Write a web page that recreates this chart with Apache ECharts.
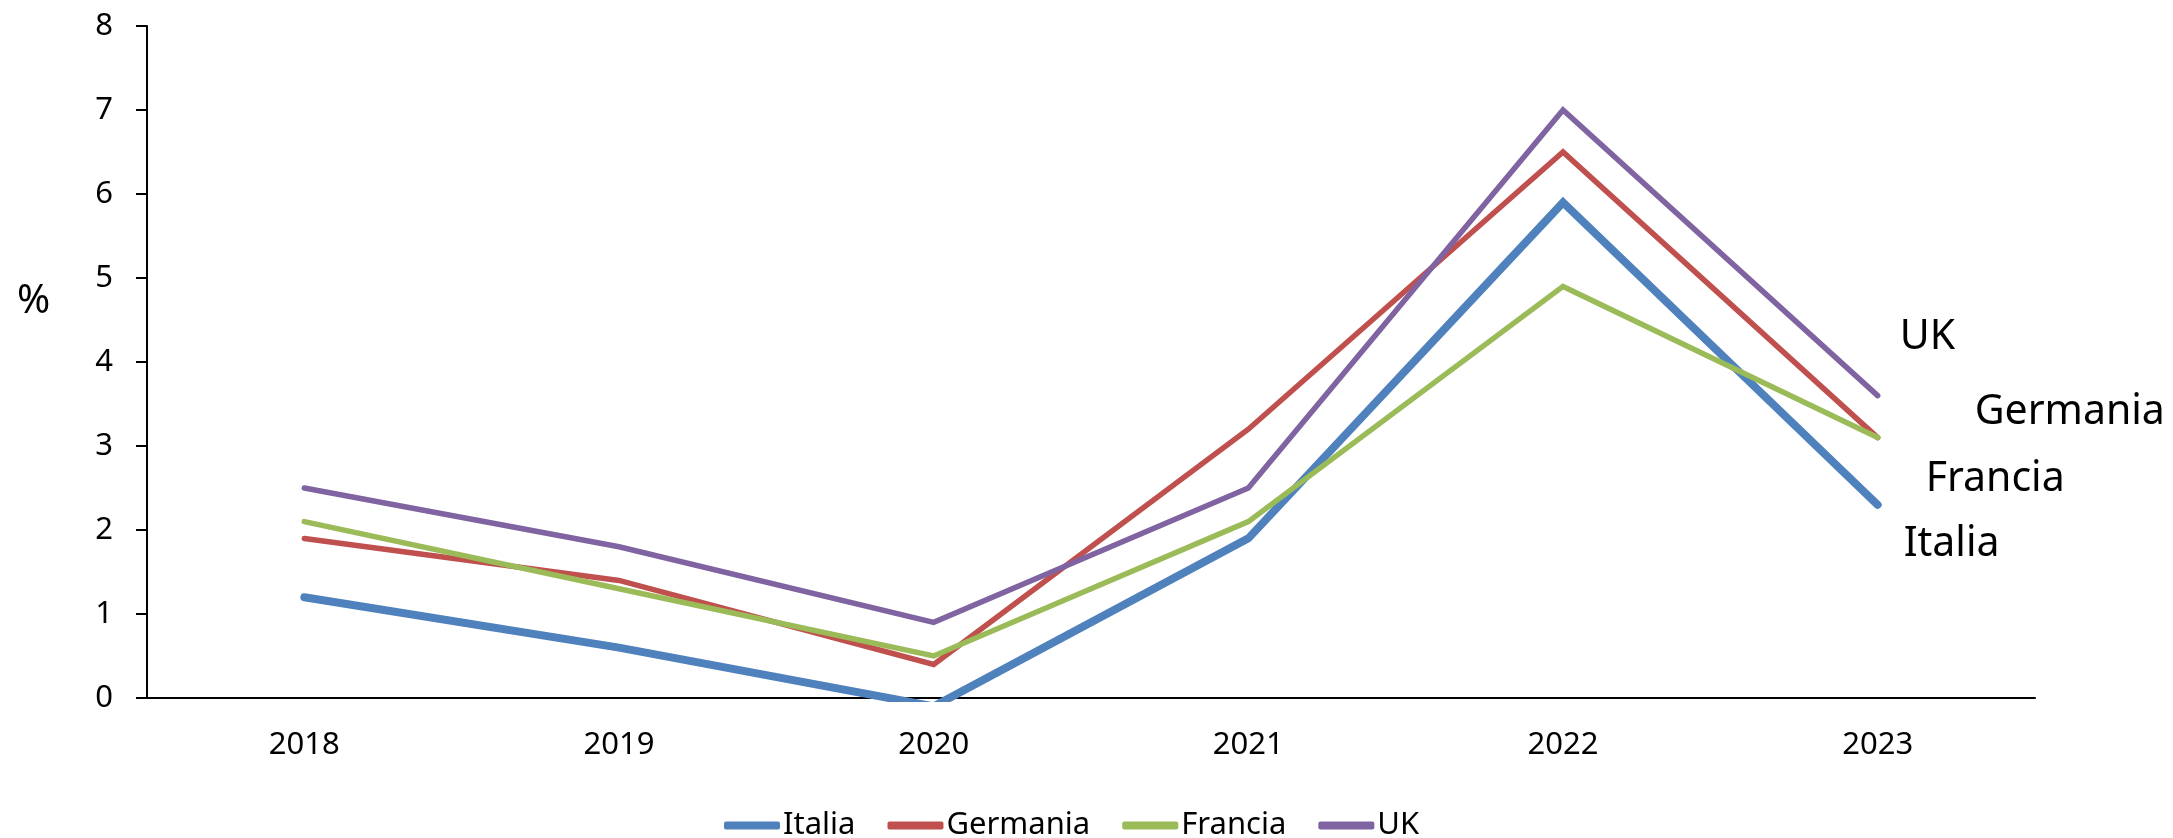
<!DOCTYPE html>
<html>
<head>
<meta charset="utf-8">
<script src="https://cdn.jsdelivr.net/npm/echarts@6/dist/echarts.min.js"></script>
<style>
html,body{margin:0;padding:0;background:#fff;}
#chart{width:2173px;height:838px;}
</style>
</head>
<body>
<div id="chart"></div>
<script>
const years = ['2018','2019','2020','2021','2022','2023'];
const italia = [1.2, 0.6, -0.1, 1.9, 5.9, 2.3];
const germania = [1.9, 1.4, 0.4, 3.2, 6.5, 3.1];
const francia = [2.1, 1.3, 0.5, 2.1, 4.9, 3.1];
const uk = [2.5, 1.8, 0.9, 2.5, 7.0, 3.6];
const seriesNames = ['Italia','Germania','Francia','UK'];
const yTicks = [0, 8, 1];
const yUnit = '%';

const FONT = 'Noto Sans';
const chart = echarts.init(document.getElementById('chart'), null, {renderer:'canvas'});

function mk(name, data, color, width, off) {
  return {
    name: name, type: 'line', data: data, symbol: 'none',
    lineStyle: {color: color, width: width, cap: 'round', join: 'miter'},
    itemStyle: {color: color},
    clip: true,
    animation: false,
    endLabel: {
      show: true, formatter: name, distance: 0, offset: off,
      fontFamily: FONT, fontSize: 41, color: '#000', align: 'left', verticalAlign: 'middle'
    }
  };
}

chart.setOption({
  backgroundColor: '#fff',
  animation: false,
  grid: {left: 147, top: 26, width: 1888, height: 672, containLabel: false},
  graphic: [{
    type: 'text', left: 17, top: 282,
    style: {text: yUnit, fontFamily: FONT, fontSize: 40, fill: '#000'}
  }],
  legend: {
    show: true, left: 719, top: 805,
    icon: 'roundRect', itemWidth: 56, itemHeight: 8, itemGap: 32,
    textStyle: {fontFamily: FONT, fontSize: 31, color: '#000', padding: [0,0,0,-2]},
    data: seriesNames
  },
  xAxis: {
    type: 'category', data: years, boundaryGap: true,
    axisLine: {lineStyle: {color: '#000', width: 2}},
    axisTick: {show: false},
    axisLabel: {fontFamily: FONT, fontSize: 31, color: '#000', margin: 32},
    splitLine: {show: false}
  },
  yAxis: {
    type: 'value', min: yTicks[0], max: yTicks[1], interval: yTicks[2],
    axisLine: {show: true, lineStyle: {color: '#000', width: 2}},
    axisTick: {show: true, inside: false, length: 11, lineStyle: {color: '#000', width: 2}},
    axisLabel: {fontFamily: FONT, fontSize: 31, color: '#000', margin: 34},
    splitLine: {show: false}
  },
  series: [
    mk('Italia', italia, '#4F81BD', 8, [26, 40]),
    mk('Germania', germania, '#C0504D', 5.5, [97, -25]),
    mk('Francia', francia, '#9BBB59', 5.5, [48, 42]),
    mk('UK', uk, '#8064A2', 5.5, [22, -58])
  ]
});
</script>
</body>
</html>
